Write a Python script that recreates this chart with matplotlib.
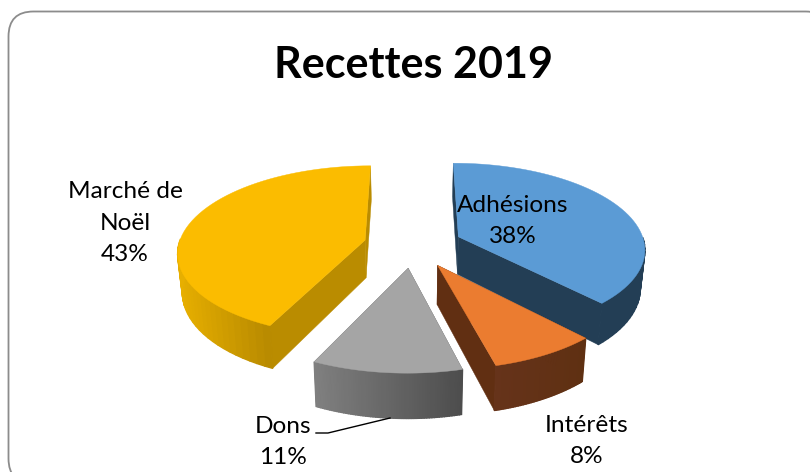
import numpy as np
import matplotlib
matplotlib.use("Agg")
import matplotlib.pyplot as plt
from matplotlib.patches import FancyBboxPatch
from matplotlib.colors import to_rgb

# data
categories = ["Adhésions", "Intérêts", "Dons", "Marché de\nNoël"]
values = [38, 8, 11, 43]
percent_labels = ["38%", "8%", "11%", "43%"]
title = "Recettes 2019"

# styles
top_colors = ["#5B9BD5", "#EB7C30", "#A5A5A5", "#FBBC00"]
radial_colors = ["#233E55", "#612F12", "#5A5A5A", "#BA8C00"]
arc_from = ["#233E55", "#5F3012", "#4D4D4D", "#B98B00"]
arc_to = ["#233E55", "#66331A", "#808080", "#E6AE00"]
draw_order = [3, 0, 2, 1]
label_xy = [(513, 221), (587, 441), (283, 442), (125, 223)]

CX, CY, RX, RY, K, EXPLODE, DEPTH, CONVERGE = 413, 245, 186.5, 85, 0.128, 0.265, 38, 0.98
FONT = "Lato"


def project(X, Y, z=0.0):
    X, Y = np.asarray(X, float), np.asarray(Y, float)
    s = 1 / (1 + K * Y)
    conv = 1 - (1 - CONVERGE) * z
    return CX + RX * X * s * conv, CY - RY * Y * s + DEPTH * s * z


fig = plt.figure(figsize=(8.10, 4.72), dpi=100)
ax = fig.add_axes([0, 0, 1, 1])
ax.set_xlim(0, 810)
ax.set_ylim(472, 0)
ax.axis("off")

ax.add_patch(FancyBboxPatch((8.5 + 25, 11.5 + 25), 822 - 50, 472 - 50,
                            boxstyle="round,pad=25,rounding_size=25",
                            fc="white", ec="#8C8C8C", lw=1.3, zorder=0))

fractions = np.array(values, float) / sum(values)
ends = np.cumsum(fractions) * 2 * np.pi
starts = ends - fractions * 2 * np.pi

for i in draw_order:
    a0, a1 = starts[i], ends[i]
    mid = (a0 + a1) / 2
    ox, oy = EXPLODE * np.sin(mid), EXPLODE * np.cos(mid)
    t = np.linspace(a0, a1, 60)
    X, Y = ox + np.sin(t), oy + np.cos(t)

    # radial walls
    for a in (a0, a1):
        ex, ey = ox + np.sin(a), oy + np.cos(a)
        p0 = project(ox, oy, 0)
        p1 = project(ex, ey, 0)
        p2 = project(ex, ey, 1)
        p3 = project(ox, oy, 1)
        ax.fill([p0[0], p1[0], p2[0], p3[0]], [p0[1], p1[1], p2[1], p3[1]],
                color=radial_colors[i], lw=0.3, zorder=2)

    # outer wall, shaded along the visible front part of the arc
    c0, c1 = np.array(to_rgb(arc_from[i])), np.array(to_rgb(arc_to[i]))
    xt, yt = project(X, Y, 0)
    xb, yb = project(X, Y, 1)
    vis = np.where(np.cos(t) < 0.02)[0]
    if len(vis):
        x_first, x_last = xt[vis[0]], xt[vis[-1]]
        for j in vis[:-1]:
            u = abs(xt[j] - x_first) / max(abs(x_last - x_first), 1)
            col = c0 + (c1 - c0) * u
            ax.fill([xt[j], xt[j + 1], xb[j + 1], xb[j]],
                    [yt[j], yt[j + 1], yb[j + 1], yb[j]],
                    facecolor=col, edgecolor=col, lw=1.0, zorder=2)

    # top surface
    px, py = project(np.r_[ox, X], np.r_[oy, Y], 0)
    ax.fill(px, py, color=top_colors[i], lw=0.3, zorder=2)

# labels
for name, pct, (lx, ly) in zip(categories, percent_labels, label_xy):
    ax.text(lx, ly, f"{name}\n{pct}", ha="center", va="center", fontsize=17.6,
            family=FONT, color="black", linespacing=1.62, zorder=4)

ax.plot([316, 328, 390], [433, 433, 418], color="black", lw=1, zorder=3)
ax.text(414, 65.5, title, ha="center", va="center", fontsize=31, fontweight="bold",
        family=FONT, color="black", zorder=4)

fig.savefig("out.png", dpi=100)
